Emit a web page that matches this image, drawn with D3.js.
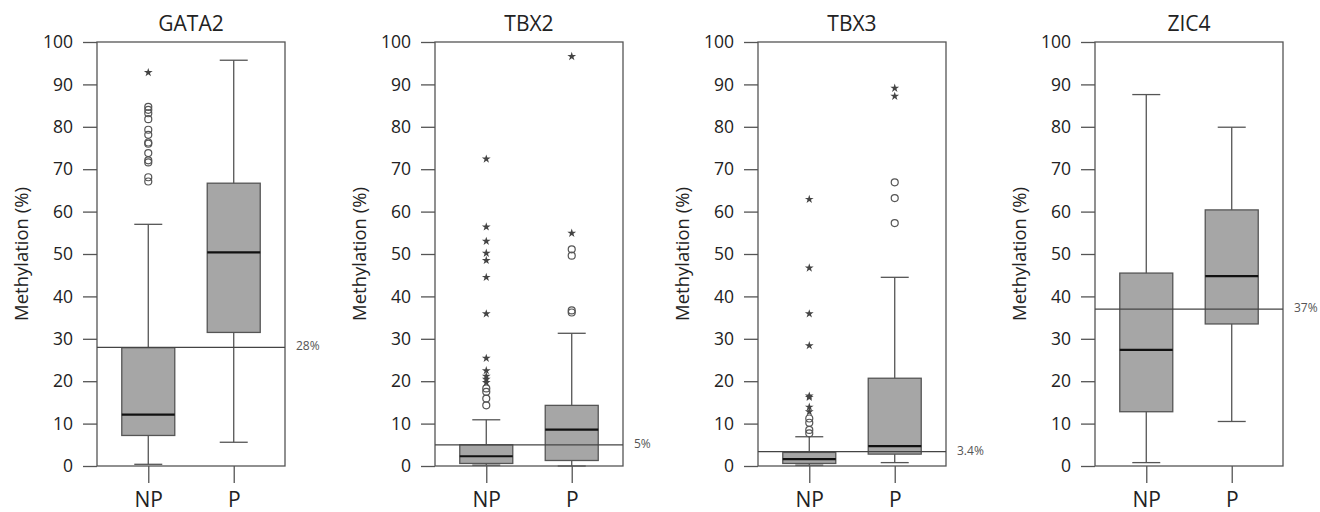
<!DOCTYPE html>
<html>
<head>
<meta charset="utf-8">
<script src="https://cdn.jsdelivr.net/npm/d3@7"></script>
<style>
body{margin:0;background:#fff;}
svg text{font-family:"Open Sans",sans-serif;}
</style>
</head>
<body>
<svg id="chart" width="1320" height="512"></svg>
<script>
// data -----------------------------------------------------------
var genes = ["GATA2", "TBX2", "TBX3", "ZIC4"];
var groups = ["NP", "P"];
var yTicks = [0, 10, 20, 30, 40, 50, 60, 70, 80, 90, 100];
var cutoffs = [28, 5, 3.4, 37];
var cutoffLabels = ["28%", "5%", "3.4%", "37%"];

// [whisker low, Q1, median, Q3, whisker high] for NP and P
var gata2Box = [[0.4, 7.2, 12.1, 27.9, 57.0], [5.6, 31.5, 50.4, 66.7, 95.7]];
var tbx2Box = [[0.2, 0.6, 2.3, 5.0, 10.9], [0.0, 1.3, 8.6, 14.3, 31.3]];
var tbx3Box = [[0.2, 0.6, 1.6, 3.2, 6.9], [0.8, 2.8, 4.7, 20.7, 44.5]];
var zic4Box = [[0.8, 12.8, 27.4, 45.5, 87.6], [10.5, 33.5, 44.8, 60.4, 79.9]];

// outliers (circles) and extremes (stars), NP then P
var gata2Circles = [[67.1, 68.1, 71.6, 72.1, 73.8, 76.0, 76.3, 78.1, 79.3, 81.8, 83.2, 84.0, 84.7], []];
var gata2Stars = [[92.8], []];
var tbx2Circles = [[14.3, 15.9, 17.5, 18.3], [36.2, 36.7, 49.6, 51.1]];
var tbx2Stars = [[19.7, 20.5, 21.2, 22.5, 25.4, 35.9, 44.5, 48.5, 50.2, 53.0, 56.4, 72.4], [54.9, 96.6]];
var tbx3Circles = [[7.7, 8.5, 10.2, 11.2], [57.3, 63.2, 66.9]];
var tbx3Stars = [[12.8, 13.9, 16.2, 16.5, 28.4, 35.9, 46.7, 62.9], [87.2, 89.1]];
var zic4Circles = [[], []];
var zic4Stars = [[], []];

var boxes = [gata2Box, tbx2Box, tbx3Box, zic4Box];
var circles = [gata2Circles, tbx2Circles, tbx3Circles, zic4Circles];
var stars = [gata2Stars, tbx2Stars, tbx3Stars, zic4Stars];

// layout ---------------------------------------------------------
var panelLeft = [97, 435, 758, 1095];
var frameW = 188, topY = 42, bottomY = 466;
var boxW = 53, capW = 28;
var lineCol = "#555";

var svg = d3.select("#chart");

var y = d3.scaleLinear().domain([0, 100]).range([bottomY, topY]);
var x = d3.scalePoint().domain(groups).range([0, frameW]).padding(0.6);

genes.forEach(function(gene, gi){
	var g = svg.append("g").attr("transform", "translate(" + panelLeft[gi] + ",0)");

	//title
	g.append("text")
		.attr("x", frameW / 2)
		.attr("y", 31)
		.attr("text-anchor", "middle")
		.style("font-size", "21px")
		.style("fill", "#222")
		.text(gene);

	//y axis title
	g.append("text")
		.attr("transform", "translate(-74," + ((topY + bottomY) / 2) + ") rotate(-90)")
		.attr("text-anchor", "middle")
		.attr("dominant-baseline", "middle")
		.style("font-size", "18.5px")
		.style("fill", "#222")
		.text("Methylation (%)");

	//left axis
	var ya = g.append("g")
		.call(d3.axisLeft(y).tickValues(yTicks).tickSize(14).tickPadding(10));
	ya.select(".domain").remove();
	ya.selectAll("line").attr("stroke", lineCol).attr("stroke-width", 1.3);
	ya.selectAll("text").style("font-size", "17.5px").style("fill", "#222")
		.style("font-family", "'Open Sans',sans-serif");

	//bottom axis
	var xa = g.append("g")
		.attr("transform", "translate(0," + bottomY + ")")
		.call(d3.axisBottom(x).tickSize(17).tickPadding(9));
	xa.select(".domain").remove();
	xa.selectAll("line").attr("stroke", lineCol).attr("stroke-width", 1.3);
	xa.selectAll("text").style("font-size", "21px").style("fill", "#222")
		.style("font-family", "'Open Sans',sans-serif");

	//frame
	g.append("rect")
		.attr("x", 0).attr("y", topY)
		.attr("width", frameW).attr("height", bottomY - topY)
		.attr("fill", "none")
		.attr("stroke", lineCol)
		.attr("stroke-width", 1.3);

	//boxes
	var bx = g.selectAll("g.box")
		.data(boxes[gi])
		.enter()
		.append("g")
		.attr("class", "box")
		.attr("transform", function(d, i){ return "translate(" + x(groups[i]) + ",0)"; });

	bx.append("line")
		.attr("x1", 0).attr("x2", 0)
		.attr("y1", function(d){ return y(d[0]); })
		.attr("y2", function(d){ return y(d[4]); })
		.attr("stroke", lineCol).attr("stroke-width", 1.3);

	bx.selectAll("line.cap")
		.data(function(d){ return [d[0], d[4]]; })
		.enter()
		.append("line")
		.attr("class", "cap")
		.attr("x1", -capW / 2).attr("x2", capW / 2)
		.attr("y1", function(v){ return y(v); })
		.attr("y2", function(v){ return y(v); })
		.attr("stroke", lineCol).attr("stroke-width", 1.3);

	bx.append("rect")
		.attr("x", -boxW / 2)
		.attr("width", boxW)
		.attr("y", function(d){ return y(d[3]); })
		.attr("height", function(d){ return y(d[1]) - y(d[3]); })
		.attr("fill", "#a6a6a6")
		.attr("stroke", "#555")
		.attr("stroke-width", 1.3);

	bx.append("line")
		.attr("x1", -boxW / 2).attr("x2", boxW / 2)
		.attr("y1", function(d){ return y(d[2]); })
		.attr("y2", function(d){ return y(d[2]); })
		.attr("stroke", "#111").attr("stroke-width", 2.2);

	//cutoff line
	g.append("line")
		.attr("x1", 0).attr("x2", frameW)
		.attr("y1", y(cutoffs[gi])).attr("y2", y(cutoffs[gi]))
		.attr("stroke", "#444").attr("stroke-width", 1.3);

	g.append("text")
		.attr("x", frameW + 11)
		.attr("y", y(cutoffs[gi]))
		.attr("dominant-baseline", "middle")
		.style("font-size", "12px")
		.style("fill", "#555")
		.text(cutoffLabels[gi]);

	//outliers
	groups.forEach(function(grp, k){
		g.selectAll("circle.o" + k)
			.data(circles[gi][k])
			.enter()
			.append("circle")
			.attr("class", "o" + k)
			.attr("cx", x(grp))
			.attr("cy", function(v){ return y(v); })
			.attr("r", 3.5)
			.attr("fill", "none")
			.attr("stroke", "#555")
			.attr("stroke-width", 1.2);

		g.selectAll("path.s" + k)
			.data(stars[gi][k])
			.enter()
			.append("path")
			.attr("class", "s" + k)
			.attr("d", d3.symbol().type(d3.symbolStar).size(24))
			.attr("transform", function(v){ return "translate(" + x(grp) + "," + y(v) + ")"; })
			.attr("fill", "#444");
	});
});
</script>
</body>
</html>
